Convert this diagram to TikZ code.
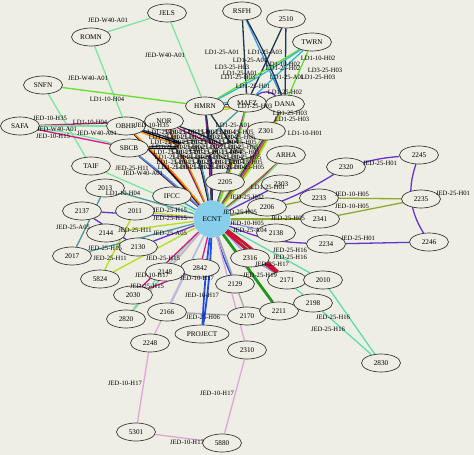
\documentclass[tikz,border=0pt]{standalone}
\usepackage{fontspec}
\setmainfont{Liberation Serif}
\usetikzlibrary{shapes.geometric,backgrounds}
\definecolor{bg}{HTML}{EEEEE4}
\definecolor{rim}{HTML}{3A3A3A}
\definecolor{hubblue}{HTML}{87CEEB}
\definecolor{lgreen}{HTML}{7CE6A0}
\definecolor{grn}{HTML}{6ADB34}
\definecolor{mag}{HTML}{D9168F}
\definecolor{purp}{HTML}{6633CC}
\definecolor{olive}{HTML}{8CAA2E}
\definecolor{aqua}{HTML}{5EDDB0}
\definecolor{plum}{HTML}{E0A6DC}
\definecolor{pblue}{HTML}{1F4FE0}
\definecolor{gry}{HTML}{A4A4B4}
\definecolor{dgrn}{HTML}{1E961E}
\definecolor{crim}{HTML}{CC1133}
\definecolor{teal}{HTML}{4D9A9E}
\definecolor{ygrn}{HTML}{B5DD22}
\definecolor{navy}{HTML}{1F3550}
\definecolor{sky}{HTML}{3A9AE6}
\definecolor{cyan}{HTML}{33BBCC}
\definecolor{orng}{HTML}{FF8C00}
\definecolor{brwn}{HTML}{A0522D}
\definecolor{lavnd}{HTML}{9A9AEE}
\definecolor{steel}{HTML}{A8C4E0}
\definecolor{mint}{HTML}{88D8A8}

\begin{document}
\begin{tikzpicture}[x=1pt,y=-1pt,
  site/.style={ellipse,draw=rim,fill=bg,line width=0.7pt,minimum width=39pt,
               minimum height=18pt,inner sep=0pt,font=\fontsize{7.2}{8}\selectfont},
  hub/.style={circle,fill=hubblue,minimum size=37pt,inner sep=0pt,
              font=\fontsize{7.2}{8}\selectfont},
  link/.style={line width=1.3pt},
  heavy/.style={line width=2.8pt},
  lbl/.style={font=\fontsize{6.6}{7}\selectfont,inner sep=0pt},
]
  \useasboundingbox (0,0) rectangle (474,455);

  % sites
  \foreach \n/\x/\y/\t in {JELS/167/13/JELS, ROMN/91/37/ROMN, RSFH/242/11/RSFH,
      2510/286/19/2510, TWRN/312/42/TWRN, SNFN/43/85/SNFN, SAFA/20/126/SAFA,
      OBHR/126/126/OBHR, NOR/164/121/NOR, HMRN/205/106/HMRN, MAFZ/247/103/MAFZ,
      DANA/285/104/DANA, Z301/266/131/Z301, SBCB/129/148/SBCB, TAIF/91/166/TAIF,
      ARHA/286/155/ARHA, C1/196/149/2201, C2/236/151/2202, 2205/225/182/2205,
      IFCC/172/196/IFCC, 2013/105/188/2013, 2011/135/211/2011, 2137/82/211/2137,
      2144/106/233/2144, 2017/72/256/2017, 2130/138/247/2130, 5824/100/279/5824,
      2303/281/184/2303, 2206/267/207/2206, 2320/346/167/2320, 2245/419/155/2245,
      2233/319/198/2233, 2235/421/199/2235, 2341/320/219/2341, 2234/326/244/2234,
      2246/429/242/2246, 2138/276/233/2138, 2316/250/258/2316, 2842/200/268/2842,
      2148/165/272/2148, 2030/133/295/2030, 2820/126/319/2820, 2166/167/312/2166,
      2248/150/343/2248, 2129/235/284/2129, 2170/247/316/2170, 2310/247/350/2310,
      2211/279/311/2211, 2171/287/280/2171, 2010/323/280/2010, 2198/313/303/2198,
      2830/381/363/2830, 5301/136/432/5301, 5880/222/443/5880}
    \node[site] (\n) at (\x,\y) {\t};
  \node[site,minimum width=54pt] (PROJECT) at (202,334) {PROJECT};
  \node[hub] (ECNT) at (212,219) {ECNT};

  \begin{scope}[on background layer]
    \fill[bg] (0,0) rectangle (474,455);
    % single links
    \foreach \a/\b/\c/\k in {JELS/ROMN/lgreen/0, JELS/HMRN/lgreen/0, ROMN/OBHR/lgreen/0,
        SNFN/HMRN/grn/0, SNFN/TAIF/lgreen/0, TAIF/ECNT/lgreen/0, SAFA/NOR/mag/0,
        SAFA/OBHR/lgreen/0, SAFA/SBCB/mag/0, SAFA/SBCB/lgreen/4,
        RSFH/MAFZ/navy/0, RSFH/DANA/sky/0, RSFH/DANA/navy/4, 2510/MAFZ/navy/0,
        2510/DANA/navy/0, TWRN/HMRN/grn/0, TWRN/HMRN/cyan/3, TWRN/MAFZ/cyan/0,
        TWRN/DANA/grn/0, MAFZ/DANA/purp/40, HMRN/DANA/sky/-4, HMRN/DANA/navy/3,
        HMRN/DANA/cyan/8, HMRN/MAFZ/orng/-8, HMRN/MAFZ/ygrn/-14,
        Z301/ECNT/grn/0, 2206/ECNT/lgreen/0, 2303/ECNT/purp/0,
        2320/ECNT/purp/10, 2320/2245/purp/5, 2245/2246/purp/-25, 2234/2246/purp/0,
        2234/ECNT/purp/10, 2233/2235/olive/0, 2341/2235/olive/0, 2233/ECNT/olive/0,
        2341/ECNT/olive/0, 2138/ECNT/lavnd/0, 2316/ECNT/lavnd/0, 2316/2171/lavnd/0,
        2010/ECNT/aqua/0, 2198/ECNT/aqua/0, 2010/2830/aqua/0, 2198/2830/aqua/0,
        2129/ECNT/gry/0, 2129/ECNT/pblue/4, 2170/ECNT/gry/0, 2310/ECNT/plum/0,
        2310/5880/plum/0, 2248/ECNT/plum/0, 2248/5301/plum/0, 5301/5880/plum/0,
        2166/ECNT/steel/0, 2166/2170/gry/0, 2820/ECNT/mint/0, 2820/ECNT/mint/4,
        2030/ECNT/mag/0, 2030/2842/mag/0, 2148/ECNT/plum/0, 2842/ECNT/mag/0,
        5824/ECNT/ygrn/0, 5824/2011/ygrn/0, 2144/ECNT/ygrn/0, 2011/ECNT/ygrn/0,
        2130/ECNT/purp/0, 2137/ECNT/purp/0, 2137/2130/purp/0, 2017/2013/teal/0,
        2017/ECNT/teal/0, 2013/ECNT/teal/0, IFCC/ECNT/sky/0}
      \draw[link,\c] (\a) to[bend left=\k] (\b);
    % bundles into the hub
    \foreach \s/\base/\cl in {DANA/-22/{navy,mag,purp,orng,brwn,grn,ygrn},
        ARHA/-10/{grn,purp,orng,crim,lgreen},
        HMRN/-6/{navy,mag,purp,navy}, MAFZ/-6/{navy,teal,mag,grn},
        NOR/-6/{mag,navy,orng}, OBHR/-8/{navy,black,crim,orng},
        SBCB/-6/{navy,mag,sky}, C1/-6/{black,navy,purp,teal},
        C2/-6/{grn,navy,crim,ygrn}, 2205/-3/{purp,grn}}
      \foreach \c [count=\i, evaluate=\i as \b using \base+3*\i] in \cl
        \draw[link,\c] (\s) to[bend left=\b] (ECNT);
    \foreach \a/\b/\c/\k in {OBHR/C1/black/0, OBHR/C1/navy/4, OBHR/C1/orng/-4,
        SBCB/C1/black/0, SBCB/C1/navy/5, NOR/C2/mag/-4, NOR/C2/navy/3,
        HMRN/C2/navy/0, MAFZ/C1/teal/0}
      \draw[link,\c] (\a) to[bend left=\k] (\b);
    % heavy links
    \draw[heavy,dgrn] (2211) -- (ECNT);
    \draw[heavy,crim] (2171) to[bend left=3] (ECNT);
    \draw[heavy,crim] (2171) to[bend right=3] (ECNT);
    \draw[heavy,pblue,line width=1.8pt] (PROJECT) to[bend left=2] (ECNT);
    \draw[heavy,pblue,line width=1.8pt] (PROJECT) to[bend right=3] (ECNT);
  \end{scope}

  % link labels
  \foreach \t/\x/\y [count=\i] in {JED-W40-A01/108/20, JED-W40-A01/165/55,
      JED-W40-A01/88/78, LD1-10-H04/107/99, JED-10-H35/50/118, LD1-10-H04/90/122,
      JED-W40-A01/57/129, JED-W40-A01/97/133, JED-10-H15/53/136, JED-10-H35/152/125,
      LD1-25-A01/222/52, LD1-25-A03/265/52, LD1-25-A01/250/60, LD1-10-H02/318/58,
      LD3-25-H03/232/67, LD1-10-H02/283/64, LD1-25-H02/283/68, LD3-25-H03/325/70,
      LD1-25-A01/240/73, LD1-25-H03/238/77, LD1-25-A01/287/77, LD1-25-H03/318/77,
      LD1-25-H01/253/86, LD1-25-H02/285/92, LD1-25-H03/255/106, LD1-25-H03/290/113,
      LD1-25-H03/292/119, LD1-25-A01/233/125, LD1-10-H01/305/133,
      JED-25-H11/132/168, JED-W40-A01/143/173, LD1-10-H04/123/193,
      JED-25-A05/73/227, JED-25-H15/170/210, JED-25-H15/170/218, JED-25-H11/135/230,
      JED-25-A05/170/233, JED-25-H15/105/248, JED-25-H11/110/258, JED-25-H15/163/258,
      JED-10-H17/152/275, JED-25-H15/147/286, JED-10-H17/197/278, JED-10-H17/202/295,
      JED-25-H06/203/317, LD1-25-H01/268/187, JED-25-H02/247/197, JED-25-H05/240/212,
      JED-25-H01/380/163, JED-10-H05/352/194, JED-10-H05/352/206, JED-25-H01/453/193,
      JED-25-H05/288/218, JED-10-H05/247/223, JED-25-A04/250/230, JED-25-H01/358/238,
      JED-25-H16/290/250, JED-25-H16/290/257, JED-25-H17/272/264, JED-25-H19/260/275,
      JED-25-H16/333/317, JED-25-H16/328/329, JED-10-H17/125/383, JED-10-H17/217/393,
      JED-10-H17/187/442}
    \node[lbl] (l\i) at (\x,\y) {\t};
  % crowded labels in the middle
  \foreach \y [count=\j] in {132,137,142,147,152,157,162,167}
    \foreach \x [count=\i] in {163,181,199,217,235}
      \node[lbl] (m\i-\j) at (\x+\j*1.5,\y) {LD1-25-H0\i};
\end{tikzpicture}
\end{document}
